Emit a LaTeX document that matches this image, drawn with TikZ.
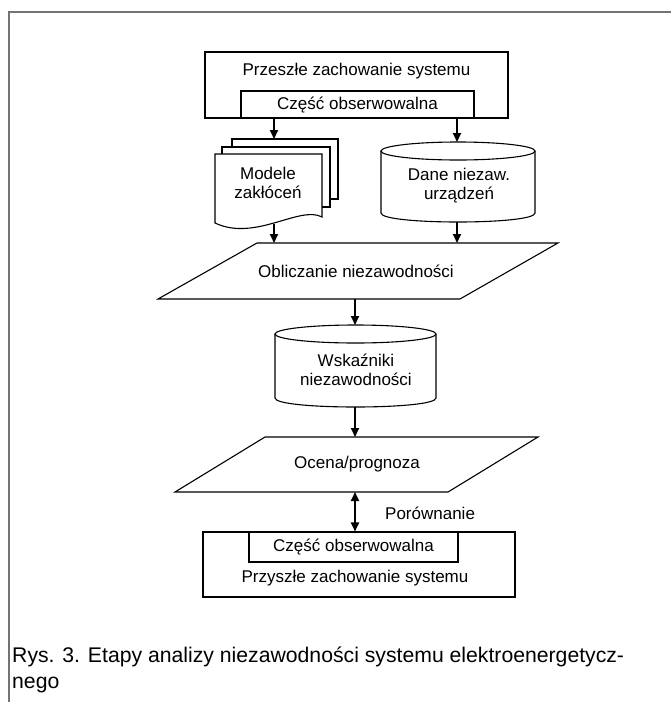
\documentclass[tikz,border=0pt]{standalone}
\usepackage{fontspec}
\setmainfont{Liberation Sans}
\usetikzlibrary{arrows.meta}

\begin{document}
\begin{tikzpicture}[x=1pt,y=-1pt,
    outline/.style={draw=black,line width=1.1pt},
    box/.style={draw=black,line width=1.1pt,fill=white,inner sep=0pt},
    txt/.style={font=\fontsize{17}{19}\selectfont,align=center,inner sep=0pt},
    arr/.style={line width=1.8pt,-{Triangle[length=9pt,width=8pt]}},
    arrboth/.style={line width=1.8pt,{Triangle[length=9pt,width=8pt]}-{Triangle[length=9pt,width=8pt]}},
    capt/.style={font=\fontsize{21.2}{25}\selectfont,anchor=base west,inner sep=0pt},
    frame/.style={draw=black!55,line width=1.2pt}]
    \useasboundingbox (0,0) rectangle (671,702);
    \draw[frame] (9,702) -- (9,12) -- (671,12);

    % past behaviour
    \node[box,minimum width=303pt,minimum height=66pt] (past) at (356.5,85) {};
    \node[box,minimum width=233pt,minimum height=27pt] (pastobs) at (357.5,104.5) {};
    \node[txt] (pasttxt) at (356.5,71) {Przeszłe zachowanie systemu};
    \node[txt] (pastobstxt) at (357.5,105) {Część obserwowalna};

    % disturbance models (document stack)
    \draw[outline] (232,147) -- (232,139) -- (338,139) -- (338,199) -- (330,199);
    \draw[outline] (222,154) -- (222,147) -- (330,147) -- (330,207) -- (322,207);
    \draw[outline] (215,223) -- (215,154) -- (322,154) -- (322,217) .. controls (300,205) and (255,242) .. cycle;
    \node[txt] (models) at (268,182.5) {Modele\\zakłóceń};

    % device data (cylinder)
    \draw[outline] (381,151) -- (381,213) .. controls (381,225) and (535,225) .. (535,213) -- (535,151);
    \draw[outline] (458,151) ellipse [x radius=77, y radius=9];
    \node[txt] (devdata) at (459,186) {Dane niezaw.\\urządzeń};

    % calculation
    \draw[outline] (257,243) -- (558,243) -- (460,299) -- (158,299) -- cycle;
    \node[txt] (calc) at (356,271) {Obliczanie niezawodności};

    % indices (cylinder)
    \draw[outline] (275,334) -- (275,398) .. controls (275,410) and (436,410) .. (436,398) -- (436,334);
    \draw[outline] (355.5,334) ellipse [x radius=80.5, y radius=9];
    \node[txt] (indices) at (356,370) {Wskaźniki\\niezawodności};

    % assessment
    \draw[outline] (265,437) -- (538,437) -- (448,492) -- (175,492) -- cycle;
    \node[txt] (assess) at (357,464.5) {Ocena/prognoza};

    % future behaviour
    \node[box,minimum width=312pt,minimum height=65pt] (future) at (359,564.5) {};
    \node[box,minimum width=209pt,minimum height=30pt] (futureobs) at (353.5,547) {};
    \node[txt] (futureobstxt) at (353.5,547.5) {Część obserwowalna};
    \node[txt] (futuretxt) at (355,578) {Przyszłe zachowanie systemu};
    \node[txt,anchor=west] (cmp) at (385,513) {Porównanie};

    % connectors
    \coordinate (docin) at (274,139); \coordinate (docout) at (274,224);
    \coordinate (cylin) at (457,142); \coordinate (cylout) at (457,222);
    \coordinate (calcinA) at (274,243); \coordinate (calcinB) at (457,243);
    \coordinate (calcout) at (355,299); \coordinate (indin) at (355,325);
    \coordinate (indout) at (355,407); \coordinate (assin) at (355,437);
    \coordinate (assout) at (355,492);
    \draw[arr] (pastobs.south -| docin) -- (docin); \draw[arr] (pastobs.south -| cylin) -- (cylin);
    \draw[arr] (docout) -- (calcinA); \draw[arr] (cylout) -- (calcinB);
    \draw[arr] (calcout) -- (indin); \draw[arr] (indout) -- (assin);
    \draw[arrboth] (assout) -- (future.north -| assout);

    % caption
    \node[capt] (cap1) at (12,662) {Rys. 3. Etapy analizy niezawodności systemu elektroenergetycz-};
    \node[capt] (cap2) at (12,688) {nego};
\end{tikzpicture}
\end{document}
